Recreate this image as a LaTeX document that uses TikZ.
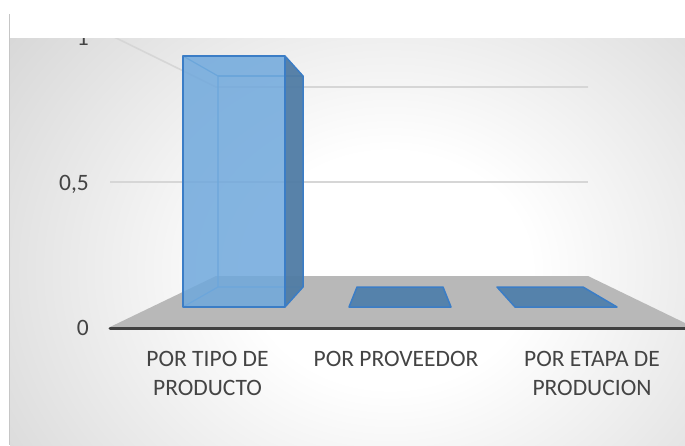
\documentclass[tikz,border=0pt]{standalone}
\usepackage{fontspec}
\setmainfont{Carlito}
\definecolor{bggray}{HTML}{C6C6C6}
\definecolor{gridc}{HTML}{D6D6D6}
\definecolor{floorc}{HTML}{B8B8B8}
\definecolor{axisc}{HTML}{404040}
\definecolor{txtc}{HTML}{444444}
\definecolor{frontc}{HTML}{6FA8DC}
\definecolor{sidec}{HTML}{507CA5}
\definecolor{edgec}{HTML}{3B7DC6}
\definecolor{innerc}{HTML}{5B9BD5}
\definecolor{flatc}{HTML}{5582AB}
\pgfdeclareradialshading{bgshade}{\pgfpoint{0bp}{0bp}}{color(0bp)=(white); color(7bp)=(white); color(31bp)=(bggray); color(50bp)=(bggray)}
\tikzset{
  lbl/.style={font=\fontsize{23.5}{29}\selectfont, text=txtc, inner sep=0pt, align=center},
  ticklbl/.style={font=\fontsize{23.5}{29}\selectfont, text=txtc, inner sep=0pt},
  gridline/.style={draw=gridc, line width=1.6pt},
  edgeline/.style={draw=edgec, line width=1.5pt, line join=round},
  innerline/.style={draw=innerc, line width=1.2pt},
}
\begin{document}
\begin{tikzpicture}[x=1pt,y=-1pt]
\useasboundingbox (0,0) rectangle (685,445);
\fill[white] (0,0) rectangle (685,445);
% panel
\begin{scope}
\clip (10,38) rectangle (685,445);
\shade[shading=bgshade] (-110,-150) rectangle (890,690);
% gridlines
\draw[gridline] (110,35) -- (216,87) -- (588,87);
\draw[gridline] (110,182) -- (588,182);
% floor
\fill[floorc] (110,327) -- (216,276) -- (588,276) -- (685,323) -- (685,327) -- cycle;
\draw[axisc, line width=3pt, line cap=round] (110,328) -- (690,328);
% tick labels
\node[ticklbl, anchor=base east] (t1) at (89,45) {1};
\end{scope}
\draw[draw=bggray, line width=1pt] (9,14) -- (9,445);
\node[ticklbl, anchor=base east] (t05) at (89,190) {0,5};
\node[ticklbl, anchor=base east] (t0) at (89,335) {0};
% bar 1 (transparent box)
\draw[innerline] (183,56) -- (218,76) -- (218,287) -- (303,287);
\draw[innerline] (218,76) -- (303,76);
\draw[innerline] (183,307) -- (218,287);
\fill[sidec, fill opacity=0.95] (285,56) -- (303,76) -- (303,287) -- (285,307) -- cycle;
\fill[frontc, fill opacity=0.85] (183,56) rectangle (285,307);
\draw[edgeline] (285,56) -- (303,76) -- (303,287) -- (285,307);
\draw[edgeline] (183,56) rectangle (285,307);
\node[inner sep=0pt] (bar1) at (234,181) {};
% flat bars
\draw[edgeline, fill=flatc] (349,307) -- (357,287) -- (443,287) -- (451,307) -- cycle;
\node[inner sep=0pt] (bar2) at (400,297) {};
\draw[edgeline, fill=flatc] (515,307) -- (497,287) -- (583,287) -- (617,307) -- cycle;
\node[inner sep=0pt] (bar3) at (566,297) {};
% category labels
\node[lbl, anchor=north] (c1) at (207.5,351) {POR TIPO DE\\PRODUCTO};
\node[lbl, anchor=north] (c2) at (396,351) {POR PROVEEDOR};
\node[lbl, anchor=north] (c3) at (592,351) {POR ETAPA DE\\PRODUCION};
\end{tikzpicture}
\end{document}
